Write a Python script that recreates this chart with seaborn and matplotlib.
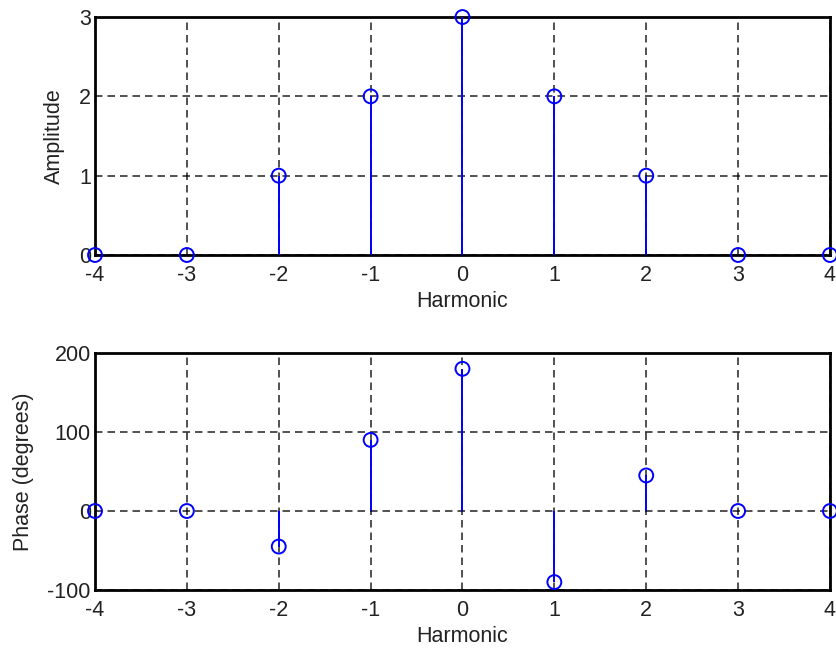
import matplotlib
matplotlib.use("Agg")
import matplotlib.pyplot as plt
import seaborn as sns
import pandas as pd

harmonic = [-4, -3, -2, -1, 0, 1, 2, 3, 4]
amplitude = [0, 0, 1, 2, 3, 2, 1, 0, 0]
phase = [0, 0, -45, 90, 180, -90, 45, 0, 0]

sns.set_style("white")
plt.rcParams['font.family'] = ['Liberation Sans', 'DejaVu Sans']
plt.rcParams['axes.unicode_minus'] = False

fig = plt.figure(figsize=(8.37, 6.5), dpi=100)
ax1 = fig.add_axes([0.1135, 0.6077, 0.8781, 0.3661])
ax2 = fig.add_axes([0.1135, 0.0923, 0.8781, 0.3646])

blue = "#0000ff"
fs = 15.5

def draw(ax, y, ylim, yticks, ylabel):
    df = pd.DataFrame({"Harmonic": harmonic, "v": y})
    ax.vlines(df["Harmonic"], 0, df["v"], color=blue, lw=1.4, zorder=3)
    sns.scatterplot(data=df, x="Harmonic", y="v", ax=ax, marker="o", s=100,
                    facecolors="none", edgecolor=blue, linewidth=1.4,
                    zorder=4, clip_on=False, legend=False)
    ax.set_xlim(-4, 4)
    ax.set_ylim(*ylim)
    ax.set_xticks(harmonic)
    ax.set_xticklabels([str(h) for h in harmonic])
    ax.set_yticks(yticks)
    ax.set_xlabel("Harmonic", fontsize=fs, labelpad=3.5, color="#222222")
    ax.set_ylabel(ylabel, fontsize=fs, labelpad=10, color="#222222")
    ax.grid(True, color="black", linestyle=(0, (4.5, 3)), linewidth=1.2, alpha=0.8)
    for s in ax.spines.values():
        s.set_color("black")
        s.set_linewidth(2)
        s.set_visible(True)
    ax.tick_params(axis="x", length=0, pad=7.5, labelsize=fs, colors="#222222")
    ax.tick_params(axis="y", length=0, pad=3, labelsize=fs, colors="#222222")

draw(ax1, amplitude, (0, 3), [0, 1, 2, 3], "Amplitude")
draw(ax2, phase, (-100, 200), [-100, 0, 100, 200], "Phase (degrees)")

fig.savefig("out.png", dpi=100)
